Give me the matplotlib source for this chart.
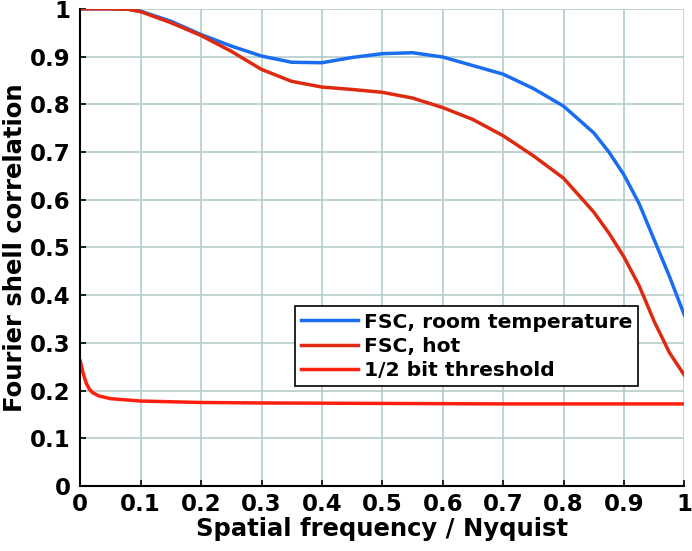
import matplotlib
matplotlib.use("Agg")
import matplotlib.pyplot as plt
import numpy as np

# Adatok
freq = [0.0, 0.05, 0.08, 0.1, 0.15, 0.2, 0.25, 0.3, 0.35, 0.4, 0.45, 0.5,
        0.55, 0.6, 0.65, 0.7, 0.75, 0.8, 0.85, 0.875, 0.9, 0.925, 0.95, 0.975, 1.0]
fsc_room = [1.0, 1.0, 0.999, 0.995, 0.974, 0.946, 0.922, 0.901, 0.888, 0.887, 0.898, 0.906,
            0.908, 0.899, 0.881, 0.863, 0.833, 0.796, 0.74, 0.70, 0.652, 0.592, 0.516, 0.44, 0.358]
fsc_hot = [1.0, 1.0, 0.999, 0.994, 0.971, 0.944, 0.911, 0.873, 0.848, 0.836, 0.831, 0.825,
           0.813, 0.793, 0.768, 0.734, 0.692, 0.645, 0.574, 0.53, 0.48, 0.42, 0.345, 0.28, 0.232]
thr_freq = [0.0, 0.005, 0.01, 0.015, 0.02, 0.03, 0.05, 0.1, 0.2, 0.3, 0.5, 0.7, 1.0]
thr_vals = [0.262, 0.235, 0.215, 0.203, 0.196, 0.189, 0.183, 0.178, 0.175, 0.174, 0.173, 0.172, 0.172]

ticks = np.round(np.arange(0, 1.01, 0.1), 1)
tick_labels = ["0", "0.1", "0.2", "0.3", "0.4", "0.5", "0.6", "0.7", "0.8", "0.9", "1"]

fig = plt.figure(figsize=(6.92, 5.51), dpi=100)
ax = fig.add_axes([0.116, 0.118, 0.873, 0.866])

# Görbék
ax.plot(freq, fsc_room, color="#1a6cf0", lw=2.5, label="FSC, room temperature")
ax.plot(freq, fsc_hot, color="#dd2a10", lw=2.5, label="FSC, hot")
ax.plot(thr_freq, thr_vals, color="#ff2010", lw=2.5, label="1/2 bit threshold")

# Formázás
ax.set_xlim(0, 1)
ax.set_ylim(0, 1)
ax.set_xticks(ticks)
ax.set_yticks(ticks)
ax.set_xticklabels(tick_labels, fontsize=16.5, fontweight="bold")
ax.set_yticklabels(tick_labels, fontsize=16.5, fontweight="bold")
ax.tick_params(direction="in", length=4, width=1.2, pad=7)
ax.tick_params(axis="x", pad=5)
ax.grid(True, color="#b5cccc", lw=1.2)
ax.set_axisbelow(True)
for s in ["top", "right"]:
    ax.spines[s].set_visible(False)
for s in ["left", "bottom"]:
    ax.spines[s].set_linewidth(1.5)

ax.set_xlabel("Spatial frequency / Nyquist", fontsize=17.5, fontweight="bold", labelpad=1)
ax.set_ylabel("Fourier shell correlation", fontsize=17.5, fontweight="bold", labelpad=2)

# Jelmagyarázat
leg = ax.legend(loc="lower right", bbox_to_anchor=(0.924, 0.21), fancybox=False,
                prop={"weight": "bold", "size": 14.6}, handlelength=2.8,
                borderpad=0.3, labelspacing=0.25, handletextpad=0.3,
                borderaxespad=0, framealpha=1)
leg.get_frame().set_edgecolor("black")
leg.get_frame().set_linewidth(1.2)

plt.savefig("out.png", dpi=100)
